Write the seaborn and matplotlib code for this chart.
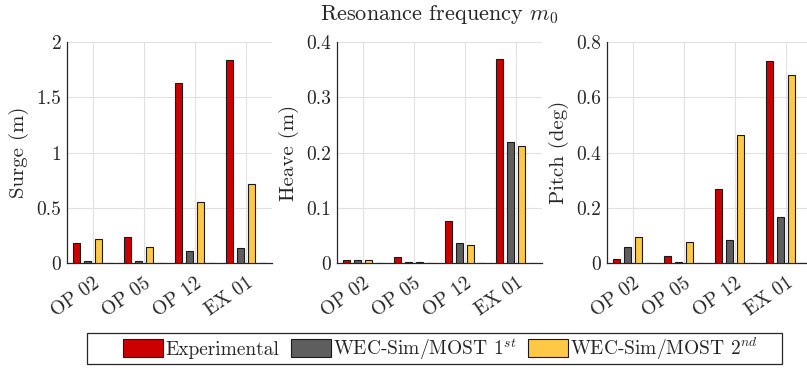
import numpy as np
import pandas as pd
import matplotlib
matplotlib.use("Agg")
import matplotlib.pyplot as plt
import matplotlib.transforms as mtransforms
import seaborn as sns
from matplotlib.patches import Patch, Rectangle

CASES = ["OP 02", "OP 05", "OP 12", "EX 01"]
SERIES = ["Experimental", "WEC-Sim/MOST $1^{st}$", "WEC-Sim/MOST $2^{nd}$"]

surge_exp = [0.18, 0.24, 1.63, 1.84]
surge_1st = [0.015, 0.015, 0.11, 0.14]
surge_2nd = [0.22, 0.145, 0.55, 0.715]

heave_exp = [0.005, 0.010, 0.077, 0.370]
heave_1st = [0.0054, 0.0012, 0.036, 0.220]
heave_2nd = [0.0054, 0.0024, 0.033, 0.212]

pitch_exp = [0.015, 0.027, 0.267, 0.732]
pitch_1st = [0.059, 0.005, 0.083, 0.167]
pitch_2nd = [0.095, 0.077, 0.465, 0.680]

COLORS = ["#cc0000", "#5e5e5e", "#ffc845"]


def long_frame(exp, first, second):
    rows = []
    for vals, name in zip([exp, first, second], SERIES):
        for case, v in zip(CASES, vals):
            rows.append({"case": case, "series": name, "value": v})
    # empty fourth slot, as in the original grouped bars
    for case in CASES:
        rows.append({"case": case, "series": "_pad", "value": 0.0})
    return pd.DataFrame(rows)


sns.set_style("white")
plt.rcParams["font.family"] = "serif"
plt.rcParams["font.serif"] = ["cmr10", "DejaVu Serif"]
plt.rcParams["mathtext.fontset"] = "cm"
plt.rcParams["axes.formatter.use_mathtext"] = True
plt.rcParams["axes.unicode_minus"] = False

fig = plt.figure(figsize=(8.07, 3.72), dpi=100)

panels = [
    ("Surge (m)", surge_exp, surge_1st, surge_2nd, 2.0, [0, 0.5, 1, 1.5, 2]),
    ("Heave (m)", heave_exp, heave_1st, heave_2nd, 0.4, [0, 0.1, 0.2, 0.3, 0.4]),
    ("Pitch (deg)", pitch_exp, pitch_1st, pitch_2nd, 0.8, [0, 0.2, 0.4, 0.6, 0.8]),
]
lefts = [67, 337, 607]
shift = mtransforms.ScaledTranslation(10 / 100, 0, fig.dpi_scale_trans)

axes = []
for (label, e, f, s, ymax, ticks), left in zip(panels, lefts):
    ax = fig.add_axes([left / 807, 1 - 263 / 372, 205 / 807, (263 - 42.3) / 372])
    df = long_frame(e, f, s)
    sns.barplot(data=df, x="case", y="value", hue="series",
                hue_order=SERIES + ["_pad"],
                palette=COLORS + ["white"], saturation=1,
                width=0.86, gap=0.35, edgecolor="#1a1a1a", linewidth=0.8,
                legend=False, ax=ax, zorder=3)
    ax.set_xlim(-0.5, 3.5)
    ax.set_ylim(0, ymax)
    ax.set_yticks(ticks)
    ax.set_yticklabels(["%g" % t for t in ticks])
    ax.set_xticks(range(len(CASES)))
    ax.set_xticklabels(CASES, rotation=35, ha="right", va="top",
                       rotation_mode="default")
    ax.set_xlabel("")
    ax.set_ylabel(label, fontsize=15)
    ax.yaxis.set_label_coords(-0.185, 0.5)
    ax.grid(True, color="#e1e1e1", linewidth=0.8, zorder=0)
    ax.set_axisbelow(True)
    for side in ["top", "right"]:
        ax.spines[side].set_visible(False)
    for side in ["left", "bottom"]:
        ax.spines[side].set_color("#262626")
        ax.spines[side].set_linewidth(0.9)
    ax.tick_params(direction="in", length=3, width=0.8, colors="#262626",
                   labelsize=14, pad=4)
    ax.tick_params(axis="x", pad=8)
    # nudge rotated labels to the right (after tick_params, which resets transforms)
    for tick in ax.xaxis.get_major_ticks():
        tick.label1.set_transform(tick.label1.get_transform() + shift)
    axes.append(ax)

axes[1].set_title("Resonance frequency $m_0$", fontsize=16, pad=16)

handles = [Patch(facecolor=c, edgecolor="#1a1a1a", linewidth=0.8) for c in COLORS]
leg = fig.legend(handles, SERIES, loc="center", ncol=3,
                 bbox_to_anchor=(440.5 / 807, 1 - 348.5 / 372),
                 fontsize=14, frameon=False, handlelength=2.05, handleheight=1.0,
                 handletextpad=0.12, columnspacing=0.6, borderpad=0)

# legend box, a bit wider on the left like the original
fig.patches.append(Rectangle((87 / 807, 1 - 364 / 372), 695 / 807, 31 / 372,
                             transform=fig.transFigure, fill=False,
                             edgecolor="#262626", linewidth=0.9))

fig.savefig("out.png", dpi=100)
